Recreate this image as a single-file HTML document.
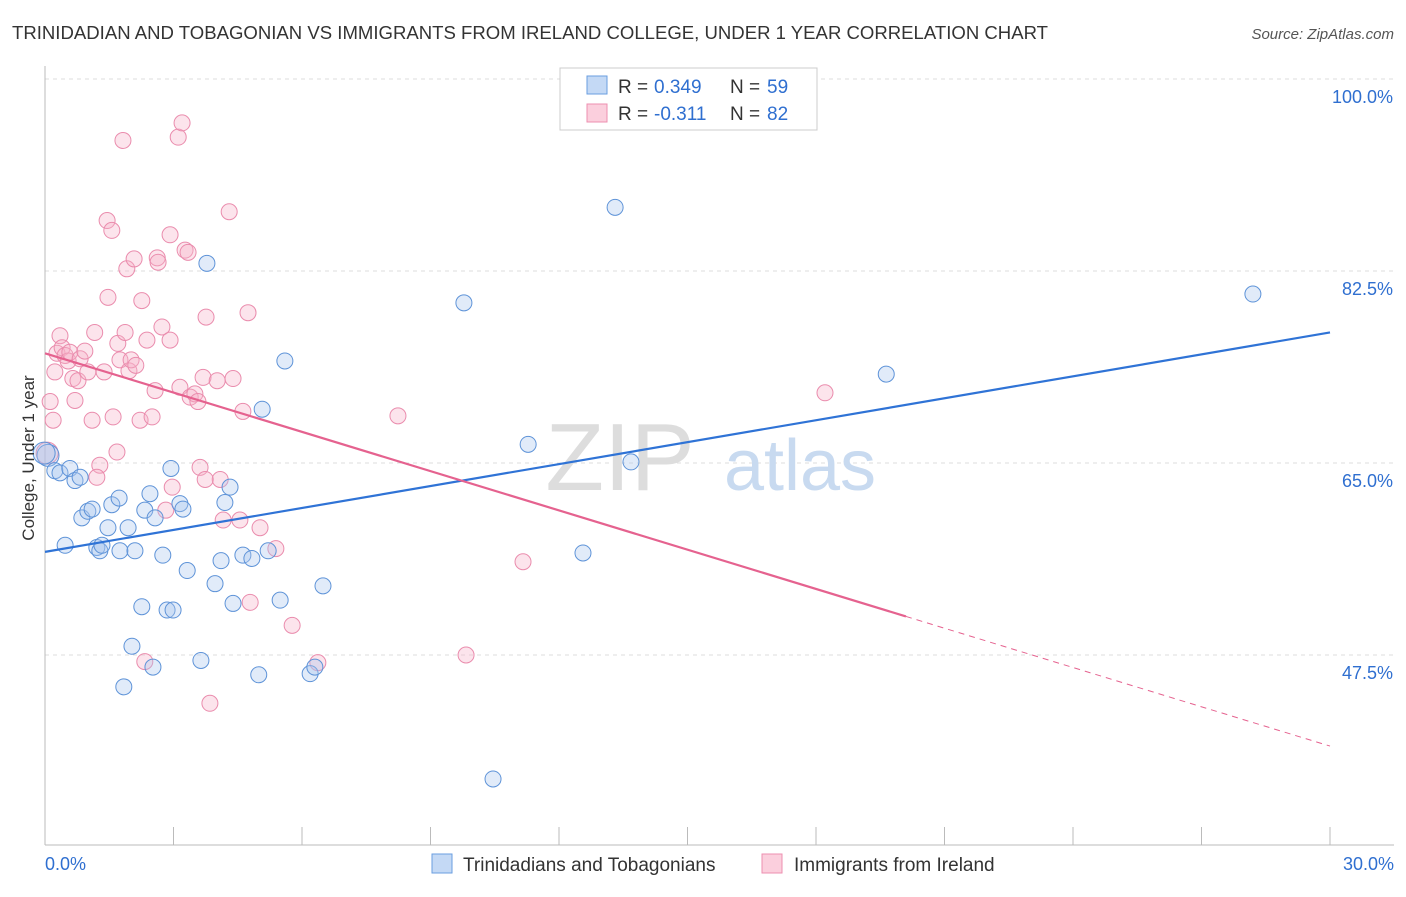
<!DOCTYPE html>
<html><head><meta charset="utf-8"><style>
body{margin:0;background:#fff;font-family:"Liberation Sans",sans-serif;}
svg text{font-family:"Liberation Sans",sans-serif;}
</style></head><body>
<svg id="chart" width="1406" height="892">
<text x="12" y="39" font-size="18" fill="#333" textLength="1036" lengthAdjust="spacingAndGlyphs">TRINIDADIAN AND TOBAGONIAN VS IMMIGRANTS FROM IRELAND COLLEGE, UNDER 1 YEAR CORRELATION CHART</text>
<text x="1394" y="39" font-size="15" fill="#555" text-anchor="end" font-style="italic">Source: ZipAtlas.com</text>
<g id="grid"></g>
<text x="620" y="490" font-size="96" fill="#ddd" font-family="Liberation Serif" text-anchor="middle">ZIP</text>
<text x="800" y="490" font-size="72" fill="#c8daf0" text-anchor="middle">atlas</text>
<g id="points"></g>
<g id="lines"></g>
<text transform="translate(34,458) rotate(-90)" font-size="17" fill="#333" text-anchor="middle">College, Under 1 year</text>
<g>
<rect x="560" y="68" width="257" height="62" fill="#fff" stroke="#ccc"/>
<rect x="587" y="76" width="20" height="18" fill="#c4d9f5" stroke="#6a9ee0"/>
<rect x="587" y="104" width="20" height="18" fill="#fbcfdd" stroke="#ee8fb0"/>
<text x="618" y="93" font-size="19" fill="#333">R =</text><text x="654" y="93" font-size="19" fill="#2f6fd0">0.349</text>
<text x="730" y="93" font-size="19" fill="#333">N =</text><text x="767" y="93" font-size="19" fill="#2f6fd0">59</text>
<text x="618" y="120" font-size="19" fill="#333">R =</text><text x="654" y="120" font-size="19" fill="#2f6fd0">-0.311</text>
<text x="730" y="120" font-size="19" fill="#333">N =</text><text x="767" y="120" font-size="19" fill="#2f6fd0">82</text>
</g>
<g>
<rect x="432" y="854" width="20" height="19" fill="#c4d9f5" stroke="#6a9ee0"/>
<text x="463" y="871" font-size="19" fill="#333">Trinidadians and Tobagonians</text>
<rect x="762" y="854" width="20" height="19" fill="#fbcfdd" stroke="#ee8fb0"/>
<text x="794" y="871" font-size="19" fill="#333">Immigrants from Ireland</text>
</g>
</svg>
<script>
const yTicks=[100,82.5,65,47.5];
const yTickLabels=["100.0%","82.5%","65.0%","47.5%"];
const xTicks=[0,3,6,9,12,15,18,21,24,27,30];
const xEndLabels=["0.0%","30.0%"];
const blueX=[0.07,0.23,0.35,0.58,0.7,0.82,0.47,0.86,1.0,1.1,1.21,1.28,1.33,1.47,1.56,1.73,1.75,1.94,2.1,2.26,2.03,1.84,2.45,2.33,2.57,2.75,2.85,2.99,2.52,2.94,3.15,3.22,3.32,3.64,3.78,3.97,4.11,4.2,4.32,4.39,4.62,4.83,4.99,5.07,5.21,5.49,5.6,6.19,6.3,6.49,9.78,10.46,11.28,12.56,13.31,13.68,19.64,28.2,-0.02];
const blueY=[65.7,64.3,64.1,64.5,63.4,63.7,57.5,60.0,60.6,60.8,57.3,57.0,57.5,59.1,61.2,61.8,57.0,59.1,57.0,51.9,48.3,44.6,62.2,60.7,60.0,56.6,51.6,51.6,46.4,64.5,61.3,60.8,55.2,47.0,83.2,54.0,56.1,61.4,62.8,52.2,56.6,56.3,45.7,69.9,57.0,52.5,74.3,45.8,46.4,53.8,79.6,36.2,66.7,56.8,88.3,65.1,73.1,80.4,65.9];
const pinkX=[0.05,0.12,0.19,0.23,0.28,0.35,0.4,0.47,0.54,0.58,0.65,0.7,0.77,0.82,0.93,1.0,1.1,1.16,1.28,1.21,1.38,1.45,1.47,1.56,1.59,1.68,1.75,1.7,1.82,1.87,1.91,1.96,2.01,2.08,2.12,2.22,2.26,2.33,2.38,2.5,2.57,2.62,2.64,2.73,2.82,2.92,2.92,2.97,3.11,3.2,3.15,3.27,3.34,3.39,3.5,3.57,3.62,3.69,3.76,3.85,4.02,4.09,4.16,4.3,4.39,4.55,4.62,4.74,4.79,5.02,5.39,5.77,6.37,8.24,9.83,11.16,18.21,3.74];
const pinkY=[65.9,70.6,68.9,73.3,75.0,76.6,75.5,74.8,74.3,75.1,72.7,70.7,72.5,74.5,75.2,73.3,68.9,76.9,64.8,63.7,73.3,87.1,80.1,86.2,69.2,66.0,74.4,75.9,94.4,76.9,82.7,73.4,74.4,83.6,73.9,68.9,79.8,46.9,76.2,69.2,71.6,83.7,83.3,77.4,60.7,76.2,85.8,62.8,94.7,96.0,71.9,84.4,84.2,71.0,71.3,70.6,64.6,72.8,78.3,43.1,72.5,63.5,59.8,87.9,72.7,59.8,69.7,78.7,52.3,59.1,57.2,50.2,46.8,69.3,47.5,56.0,71.4,63.5];
const blueTrend=[56.9,76.9];
const pinkTrend=[75.0,39.2];
const pinkSolidEnd=20.1;
const X=v=>45+v/30*1285, Y=v=>79+(100-v)*192/17.5;
const NS="http://www.w3.org/2000/svg";
function mk(t,a,p){const e=document.createElementNS(NS,t);for(const k in a)e.setAttribute(k,a[k]);p.appendChild(e);return e;}
const g=document.getElementById('grid');
yTicks.forEach((v,i)=>{
 const l=mk('line',{x1:45,x2:1394,y1:Y(v),y2:Y(v),stroke:'#ddd','stroke-dasharray':'4,4'},g);
 
 
 const t=mk('text',{x:1393,y:Y(v)+24,'font-size':18,fill:'#2f6fd0','text-anchor':'end'},g);t.textContent=yTickLabels[i];
 
 
});
mk('line',{x1:45,x2:45,y1:66,y2:845,stroke:'#bbb'},g);
mk('line',{x1:45,x2:1394,y1:845,y2:845,stroke:'#bbb'},g);
xTicks.forEach(v=>{const l=mk('line',{x1:X(v),x2:X(v),y1:827,y2:845,stroke:'#bbb'},g);
 
 });
[[0,'start',45],[30,'end',1394]].forEach((a,i)=>{const t=mk('text',{x:a[2],y:870,'font-size':18,fill:'#2f6fd0','text-anchor':a[1]},g);t.textContent=xEndLabels[i];
 
 });
const p=document.getElementById('points');
function dots(xs,ys,fill,stroke,name){xs.forEach((x,i)=>{const c=mk('circle',{cx:X(x),cy:Y(ys[i]),r:(x<0.1?11:8),fill:fill,'fill-opacity':0.35,stroke:stroke,'stroke-width':1},p);
 
 });}
dots(pinkX,pinkY,'#f7b3c9','#ea8cad','pink-point');
dots(blueX,blueY,'#a9c7ee','#5e93d8','blue-point');
const L=document.getElementById('lines');
const bl=mk('line',{x1:X(0),y1:Y(blueTrend[0]),x2:X(30),y2:Y(blueTrend[1]),stroke:'#2f73d6','stroke-width':2.2},L);


const pAt=x=>pinkTrend[0]+(pinkTrend[1]-pinkTrend[0])*x/30;
const pl=mk('line',{x1:X(0),y1:Y(pinkTrend[0]),x2:X(pinkSolidEnd),y2:Y(pAt(pinkSolidEnd)),stroke:'#e5628f','stroke-width':2.2},L);


const pd=mk('line',{x1:X(pinkSolidEnd),y1:Y(pAt(pinkSolidEnd)),x2:X(30),y2:Y(pinkTrend[1]),stroke:'#e5628f','stroke-width':1,'stroke-dasharray':'6,5'},L);


</script>
</body></html>
